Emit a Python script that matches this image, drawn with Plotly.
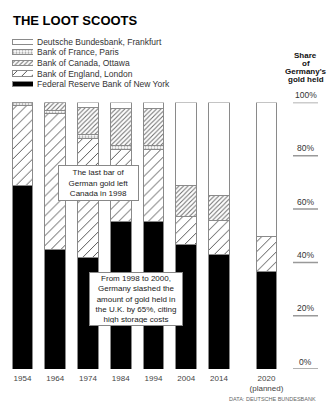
import plotly.graph_objects as go

# ---------------- data ----------------
years = ["1954", "1964", "1974", "1984", "1994", "2004", "2014", "2020<br>(planned)"]
fed_ny = [69.0, 44.7, 41.9, 55.5, 55.5, 46.8, 42.8, 36.5]
england = [29.8, 51.3, 44.7, 26.7, 26.7, 10.3, 13.1, 13.1]
france = [1.2, 1.0, 1.5, 1.8, 1.8, 0.0, 0.0, 0.0]
canada = [0.0, 3.0, 9.9, 13.7, 13.7, 11.7, 9.1, 0.0]
bundesbank = [0.0, 0.0, 2.0, 2.3, 2.3, 31.2, 35.0, 50.4]
y_ticks = [0, 20, 40, 60, 80, 100]
series_names = ["Deutsche Bundesbank, Frankfurt", "Bank of France, Paris",
                "Bank of Canada, Ottawa", "Bank of England, London",
                "Federal Reserve Bank of New York"]

# ---------------- layout helpers ----------------
W, H = 327, 403
def px(x):
    return x / W
def py(y):
    return 1 - y / H

# slot positions (last bar set apart)
x_pos = [i for i in range(7)] + [7.45]

FONT = "Liberation Sans, Arial, sans-serif"
OUT = "#8a8a8a"

styles = {
    "Federal Reserve Bank of New York": dict(color="#000000", line=dict(color=OUT, width=1)),
    "Bank of England, London": dict(color="#555555", line=dict(color=OUT, width=1),
                                     pattern=dict(shape="/", size=7, solidity=0.14,
                                                  fgcolor="#555555", bgcolor="white", fillmode="replace")),
    "Bank of Canada, Ottawa": dict(color="#6a6a6a", line=dict(color=OUT, width=1),
                                    pattern=dict(shape="/", size=3.2, solidity=0.3,
                                                 fgcolor="#6a6a6a", bgcolor="white", fillmode="replace")),
    "Bank of France, Paris": dict(color="#9a9a9a", line=dict(color=OUT, width=1),
                                   pattern=dict(shape=".", size=3, solidity=0.35,
                                                fgcolor="#9a9a9a", bgcolor="white", fillmode="replace")),
    "Deutsche Bundesbank, Frankfurt": dict(color="white", line=dict(color=OUT, width=1)),
}

fig = go.Figure()
stack = [("Federal Reserve Bank of New York", fed_ny),
         ("Bank of England, London", england),
         ("Bank of France, Paris", france),
         ("Bank of Canada, Ottawa", canada),
         ("Deutsche Bundesbank, Frankfurt", bundesbank)]
for name, vals in stack:
    fig.add_trace(go.Bar(x=x_pos, y=vals, name=name, width=0.64,
                         marker=styles[name], hoverinfo="skip",
                         xaxis="x", yaxis="y"))

# legend swatches as tiny horizontal bars on a second axis pair
for k, name in enumerate(series_names):
    fig.add_trace(go.Bar(x=[1], y=[k], orientation="h", width=0.5,
                         marker=styles[name], hoverinfo="skip",
                         xaxis="x2", yaxis="y2"))

annotations = []
# title
annotations.append(dict(text="<b>THE LOOT SCOOTS</b>", x=px(11), y=py(20), xref="paper", yref="paper",
                        xanchor="left", yanchor="middle", showarrow=False,
                        font=dict(family=FONT, size=13, color="#000")))
# legend text
for k, name in enumerate(series_names):
    annotations.append(dict(text=name, x=px(35), y=py(41.7 + 10.6 * k), xref="paper", yref="paper",
                            xanchor="left", yanchor="middle", showarrow=False,
                            font=dict(family=FONT, size=8.5, color="#333")))
# right axis title
for i, line in enumerate(["Share", "of", "Germany's", "gold held"]):
    annotations.append(dict(text="<b>" + line + "</b>", x=px(305.5), y=py(55.5 + 8.0 * i),
                            xref="paper", yref="paper", xanchor="center", yanchor="middle",
                            showarrow=False, borderpad=0,
                            font=dict(family=FONT, size=8, color="#111")))
# right axis tick labels
shapes = []
for t in y_ticks:
    annotations.append(dict(text=f"{t}%", x=px(305.5), y=t, xref="paper", yref="y",
                            xanchor="center", yanchor="middle", yshift=7.5, showarrow=False,
                            font=dict(family=FONT, size=8.5, color="#333")))
    shapes.append(dict(type="line", xref="paper", yref="y", x0=px(293), x1=px(318), y0=t, y1=t,
                       line=dict(color="#999", width=1.5)))
# callouts
annotations.append(dict(text="The last bar of<br>German gold left<br>Canada in 1998",
                        x=px(98), y=py(182.5), xref="paper", yref="paper", showarrow=False,
                        xanchor="center", yanchor="middle", align="center",
                        width=75, height=30,
                        bgcolor="white", bordercolor="#888", borderwidth=1, borderpad=2,
                        font=dict(family=FONT, size=8, color="#222")))
annotations.append(dict(text="From 1998 to 2000,<br>Germany slashed the<br>amount of gold held in<br>the U.K. by 65%, citing<br>high storage costs",
                        x=px(135.5), y=py(298.5), xref="paper", yref="paper", showarrow=False,
                        xanchor="center", yanchor="middle", align="center",
                        width=88, height=48,
                        bgcolor="white", bordercolor="#888", borderwidth=1, borderpad=2,
                        font=dict(family=FONT, size=8, color="#222")))
# source
annotations.append(dict(text="DATA: DEUTSCHE BUNDESBANK", x=px(228), y=py(399), xref="paper", yref="paper",
                        xanchor="left", yanchor="middle", showarrow=False, borderpad=0,
                        font=dict(family=FONT, size=5.5, color="#666")))

slot = 32.75
fig.update_layout(
    width=W, height=H, autosize=False,
    margin=dict(l=0, r=0, t=0, b=0),
    paper_bgcolor="white", plot_bgcolor="white",
    barmode="stack", showlegend=False,
    xaxis=dict(domain=[0, 1], range=[-22.5 / slot, (W - 22.5) / slot],
               tickvals=x_pos, ticktext=years, showgrid=False, zeroline=False,
               showline=False, ticks="", ticklabelstandoff=3,
               tickfont=dict(family=FONT, size=8, color="#444"),
               fixedrange=True),
    yaxis=dict(domain=[py(369), py(102.5)], range=[0, 100], showgrid=False, zeroline=False,
               showticklabels=False, showline=False, fixedrange=True),
    xaxis2=dict(domain=[px(12), px(33)], range=[0, 1], anchor="y2", visible=False, fixedrange=True),
    yaxis2=dict(domain=[py(41.7 + 10.6 * 4.5), py(41.7 - 10.6 * 0.5)], range=[4.5, -0.5],
                anchor="x2", visible=False, fixedrange=True),
    annotations=annotations, shapes=shapes,
)

fig.write_html("out.html")
